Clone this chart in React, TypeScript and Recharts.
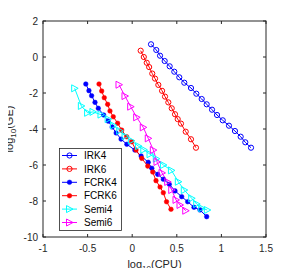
import React from 'react';
import { LineChart, Line, XAxis, YAxis, Legend } from 'recharts';

const xTicks = [-1, -0.5, 0, 0.5, 1, 1.5];
const yTicks = [-10, -8, -6, -4, -2, 0, 2];

// log10(CPU) / log10(GE) pairs
const irk4Cpu = [0.211, 0.27, 0.312, 0.364, 0.42, 0.472, 0.528, 0.584, 0.659, 0.719, 0.779, 0.835, 0.895, 0.951, 1.015, 1.085, 1.152, 1.216, 1.268, 1.332];
const irk4Ge = [0.706, 0.389, 0.072, -0.222, -0.517, -0.817, -1.128, -1.428, -1.722, -2.039, -2.333, -2.628, -2.928, -3.222, -3.517, -3.817, -4.111, -4.428, -4.739, -5.039];

const irk6Cpu = [0.095, 0.13, 0.163, 0.19, 0.225, 0.256, 0.293, 0.335, 0.368, 0.405, 0.443, 0.48, 0.51, 0.547, 0.6, 0.659, 0.715];
const irk6Ge = [0.35, 0.0, -0.32, -0.56, -0.92, -1.2, -1.55, -1.88, -2.2, -2.52, -2.85, -3.18, -3.45, -3.7, -4.15, -4.57, -5.04];

const fcrk4Cpu = [-0.52, -0.485, -0.455, -0.417, -0.38, -0.32, -0.27, -0.225, -0.18, -0.125, -0.06, 0.03, 0.1, 0.18, 0.22, 0.286, 0.349, 0.416, 0.48, 0.555, 0.622, 0.693, 0.76, 0.835];
const fcrk4Ge = [-1.5, -1.87, -2.15, -2.52, -2.85, -3.22, -3.56, -3.89, -4.22, -4.56, -4.85, -5.17, -5.5, -5.85, -6.18, -6.52, -6.79, -7.07, -7.44, -7.76, -8.04, -8.35, -8.5, -8.87];

const fcrk6Cpu = [-0.372, -0.342, -0.313, -0.275, -0.249, -0.212, -0.163, -0.118, -0.062, -0.006, 0.043, 0.107, 0.174, 0.23, 0.267, 0.312, 0.349, 0.385, 0.435];
const fcrk6Ge = [-1.5, -1.89, -2.26, -2.63, -3.0, -3.32, -3.68, -4.06, -4.43, -4.71, -5.17, -5.63, -6.06, -6.39, -6.87, -7.22, -7.54, -8.04, -8.46];

const semi4Cpu = [-0.645, -0.57, -0.5, -0.44, -0.35, -0.27, -0.21, -0.14, -0.08, -0.01, 0.07, 0.13, 0.2, 0.27, 0.35, 0.44, 0.517, 0.584, 0.667, 0.723, 0.779, 0.842];
const semi4Ge = [-1.74, -2.72, -3.1, -3.05, -3.2, -3.45, -3.8, -4.1, -4.4, -4.65, -4.95, -5.15, -5.4, -5.65, -6.0, -6.3, -6.93, -7.39, -7.85, -8.17, -8.4, -8.5];

const semi6Cpu = [-0.148, -0.081, -0.017, 0.05, 0.124, 0.18, 0.237, 0.278, 0.334, 0.398, 0.443, 0.491, 0.536, 0.6];
const semi6Ge = [-1.54, -2.17, -2.76, -3.35, -3.91, -4.52, -5.17, -5.83, -6.44, -6.94, -7.39, -7.94, -8.22, -8.54];

const zip = (xs: number[], ys: number[]) => xs.map((x, i) => ({ x, y: ys[i] }));

const series = [
  { name: 'IRK4', color: '#0000ff', marker: 'open', data: zip(irk4Cpu, irk4Ge) },
  { name: 'IRK6', color: '#ff0000', marker: 'open', data: zip(irk6Cpu, irk6Ge) },
  { name: 'FCRK4', color: '#0000ff', marker: 'filled', data: zip(fcrk4Cpu, fcrk4Ge) },
  { name: 'FCRK6', color: '#ff0000', marker: 'filled', data: zip(fcrk6Cpu, fcrk6Ge) },
  { name: 'Semi4', color: '#00ffff', marker: 'tri', data: zip(semi4Cpu, semi4Ge) },
  { name: 'Semi6', color: '#ff00ff', marker: 'tri', data: zip(semi6Cpu, semi6Ge) },
];

const FONT = '"Liberation Sans", Arial, Helvetica, sans-serif';
const AXIS = '#262626';
const W = 295;
const H = 276;
const M = { top: 21, right: 29, bottom: 0, left: 0 };
const Y_AXIS_W = 43;
const X_AXIS_H = 39;
// plot box edges in chart pixels, derived from the margins above
const PL = M.left + Y_AXIS_W;
const PR = W - M.right;
const PT = M.top;
const PB = H - M.bottom - X_AXIS_H;
const TICK_LEN = 3;

const Marker = ({ kind, color, cx, cy }: any) => {
  if (kind === 'open') {
    return <circle cx={cx} cy={cy} r={2.6} fill="none" stroke={color} strokeWidth={1} />;
  }
  if (kind === 'filled') {
    return <circle cx={cx} cy={cy} r={2.3} fill={color} stroke={color} strokeWidth={0.5} />;
  }
  return (
    <polygon
      points={`${cx + 3.5},${cy} ${cx - 3},${cy - 3.5} ${cx - 3},${cy + 3.5}`}
      fill="none"
      stroke={color}
      strokeWidth={1}
    />
  );
};

const makeDot = (kind: string, color: string) => (p: any) => (
  <Marker key={`${kind}-${p.index}`} kind={kind} color={color} cx={p.cx} cy={p.cy} />
);

// tick label plus matlab style inward tick marks at both sides of the box;
// the first x tick also draws the axes box
const XTick = ({ x, y, payload, index }: any) => (
  <g>
    {index === 0 && (
      <rect x={PL} y={PT} width={PR - PL} height={PB - PT} fill="none" stroke={AXIS} strokeWidth={1} />
    )}
    <text x={x} y={y} dy="0.71em" textAnchor="middle" fontSize={10} fill={AXIS} fontFamily={FONT}>
      {payload.value}
    </text>
    <path d={`M${x},${PB}v${-TICK_LEN}M${x},${PT}v${TICK_LEN}`} stroke={AXIS} strokeWidth={1} fill="none" />
  </g>
);

const YTick = ({ x, y, payload }: any) => (
  <g>
    <text x={x} y={y} dy="0.355em" textAnchor="end" fontSize={10} fill={AXIS} fontFamily={FONT}>
      {payload.value}
    </text>
    <path d={`M${PL},${y}h${TICK_LEN}M${PR},${y}h${-TICK_LEN}`} stroke={AXIS} strokeWidth={1} fill="none" />
  </g>
);

const LegendBox = () => (
  <svg width={63} height={83} style={{ display: 'block' }}>
    <rect x={0.5} y={0.5} width={62} height={82} fill="#fff" stroke={AXIS} strokeWidth={0.8} />
    {series.map((s, i) => {
      const cy = 7.5 + i * 13.4;
      return (
        <g key={s.name}>
          <line x1={3} x2={18} y1={cy} y2={cy} stroke={s.color} strokeWidth={1} />
          <Marker kind={s.marker} color={s.color} cx={10.5} cy={cy} />
          <text x={25} y={cy + 3.6} fontSize={10} fill="#000" fontFamily={FONT}>
            {s.name}
          </text>
        </g>
      );
    })}
  </svg>
);

const XLabel = ({ viewBox }: any) => {
  const cx = viewBox.x + viewBox.width / 2;
  return (
    <text x={cx} y={viewBox.y + 31} textAnchor="middle" fontSize={11} fill={AXIS} fontFamily={FONT}>
      <tspan>log</tspan>
      <tspan dy={3} fontSize={8}>10</tspan>
      <tspan dy={-3}>(CPU)</tspan>
    </text>
  );
};

const YLabel = ({ viewBox }: any) => {
  const cy = viewBox.y + viewBox.height / 2;
  const x = 13;
  return (
    <text
      x={x}
      y={cy}
      textAnchor="middle"
      fontSize={11}
      fill={AXIS}
      fontFamily={FONT}
      transform={`rotate(-90, ${x}, ${cy})`}
    >
      <tspan>log</tspan>
      <tspan dy={3} fontSize={8}>10</tspan>
      <tspan dy={-3}>(GE)</tspan>
    </text>
  );
};

export default function App() {
  return (
    <div style={{ margin: -8, background: '#fff', width: W, height: H }}>
      <LineChart width={W} height={H} margin={M} style={{ fontFamily: FONT }}>
        <XAxis
          type="number"
          dataKey="x"
          domain={[-1, 1.5]}
          ticks={xTicks}
          allowDataOverflow
          height={X_AXIS_H}
          axisLine={false}
          tickLine={false}
          tickSize={0}
          tickMargin={8}
          tick={<XTick />}
          label={<XLabel />}
        />
        <YAxis
          type="number"
          domain={[-10, 2]}
          ticks={yTicks}
          allowDataOverflow
          width={Y_AXIS_W}
          axisLine={false}
          tickLine={false}
          tickSize={0}
          tickMargin={5}
          tick={<YTick />}
          label={<YLabel />}
        />
        {series.map((s) => (
          <Line
            key={s.name}
            data={s.data}
            dataKey="y"
            name={s.name}
            stroke={s.color}
            strokeWidth={1}
            dot={makeDot(s.marker, s.color)}
            activeDot={false}
            isAnimationActive={false}
          />
        ))}
        <Legend
          layout="vertical"
          align="center"
          verticalAlign="middle"
          content={<LegendBox />}
          wrapperStyle={{ left: 59, top: 148, width: 63, height: 83 }}
        />
      </LineChart>
    </div>
  );
}
